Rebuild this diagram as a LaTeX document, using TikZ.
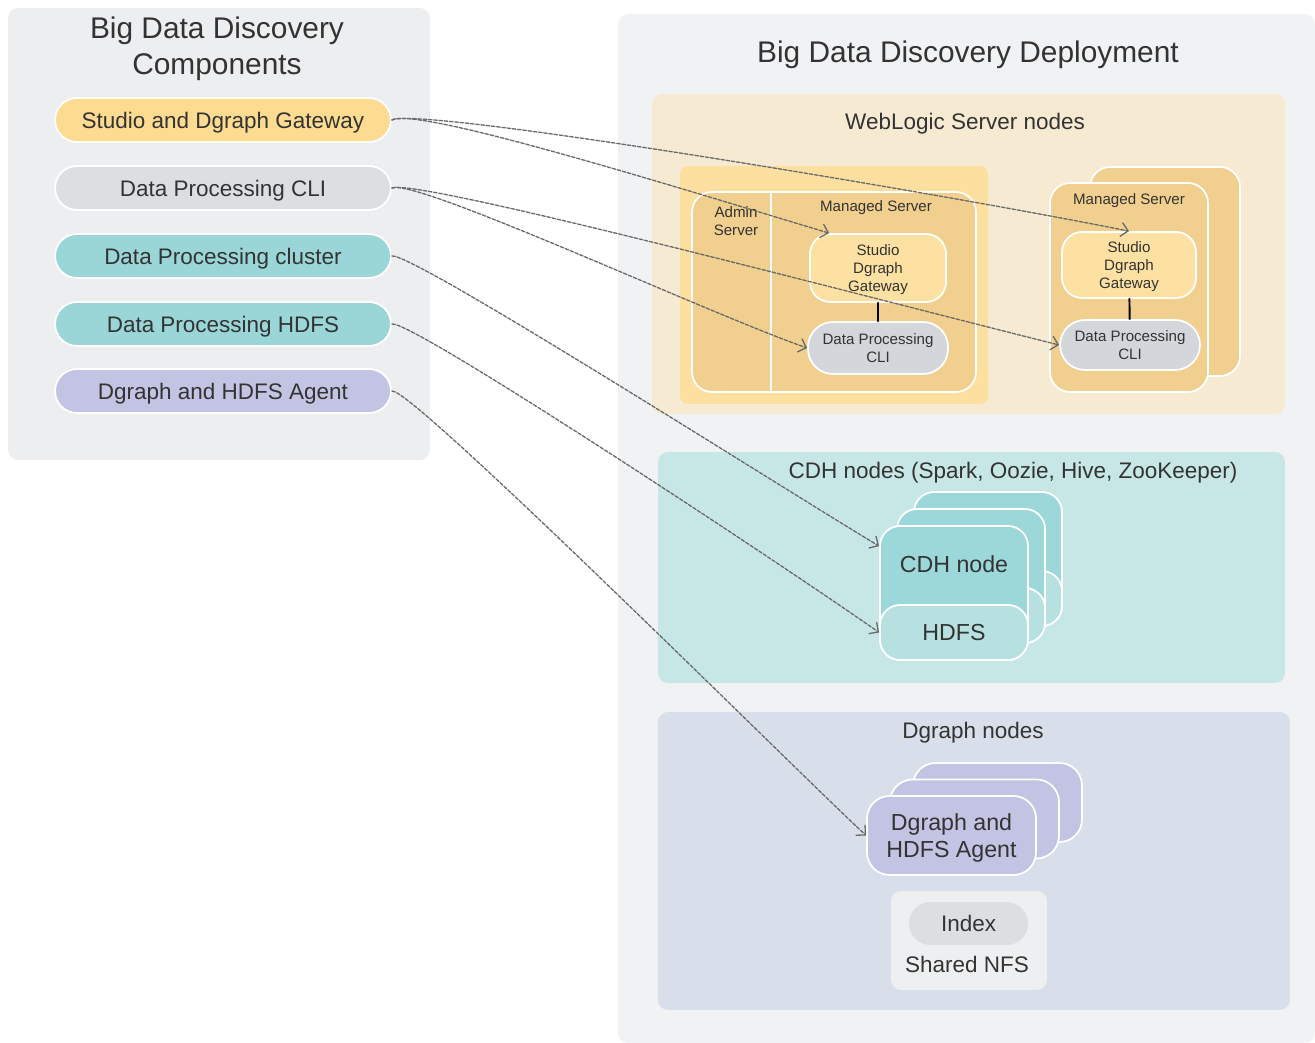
\documentclass[tikz,border=0pt]{standalone}
\usepackage{fontspec}
\setmainfont{Liberation Sans}
\usetikzlibrary{arrows.meta}
\definecolor{panelgray}{HTML}{EDEEF0}
\definecolor{deploygray}{HTML}{F1F2F4}
\definecolor{wlsbg}{HTML}{F6EAD2}
\definecolor{wlsyel}{HTML}{FDE0A0}
\definecolor{servtan}{HTML}{F1CF8E}
\definecolor{sdgyel}{HTML}{FDE1A2}
\definecolor{cligray}{HTML}{DCDFE2}
\definecolor{cligray2}{HTML}{D3D6DA}
\definecolor{studioyel}{HTML}{FDDC92}
\definecolor{dpteal}{HTML}{9AD6D8}
\definecolor{agentlav}{HTML}{C3C4E4}
\definecolor{cdhbg}{HTML}{C7E7E6}
\definecolor{cdhteal}{HTML}{9CD7DA}
\definecolor{cdhlight}{HTML}{B7E1E1}
\definecolor{dgbg}{HTML}{D8DEEA}
\definecolor{nfsgray}{HTML}{EEEFF0}
\definecolor{txtgray}{HTML}{333333}
\definecolor{linkgray}{HTML}{6A6A6A}
\begin{document}
\begin{tikzpicture}[x=0.02cm,y=-0.02cm,line join=round,line cap=round,
	txt/.style={text=txtgray,font=\fontsize{12.8}{15.4}\selectfont,align=center,inner sep=0pt,text depth=0pt},
	ttl/.style={txt,font=\fontsize{17}{20.4}\selectfont},
	tiny/.style={txt,font=\fontsize{8.6}{10.2}\selectfont},
	big/.style={txt,font=\fontsize{13.2}{15.4}\selectfont},
	panel/.style={rounded corners=0.2cm,inner sep=0pt},
	box/.style={draw=white,line width=1pt,inner sep=0pt},
	pill/.style={box,txt,rounded corners=0.44cm,minimum width=6.72cm,minimum height=0.88cm},
	link/.style={->,>={Straight Barb[length=4pt,width=8pt]},draw=linkgray,line width=0.75pt,dash pattern=on 2pt off 1pt}]
	\useasboundingbox (0,0) rectangle (1315,1043);
	% components
	\node[panel,fill=panelgray,minimum width=8.44cm,minimum height=9.04cm] (comp) at (219,234) {};
	\node[ttl] (comptitle) at (217,46) {Big Data Discovery\\Components};
	\node[pill,fill=studioyel] (pstudio) at (223,120) {Studio and Dgraph Gateway};
	\node[pill,fill=cligray] (pcli) at (223,188) {Data Processing CLI};
	\node[pill,fill=dpteal] (pcluster) at (223,256) {Data Processing cluster};
	\node[pill,fill=dpteal] (phdfs) at (223,324) {Data Processing HDFS};
	\node[pill,fill=agentlav] (pagent) at (223,391) {Dgraph and HDFS Agent};
	% deployment
	\node[panel,fill=deploygray,minimum width=13.94cm,minimum height=20.58cm] (deploy) at (966.5,528.5) {};
	\node[ttl] (deploytitle) at (968,52) {Big Data Discovery Deployment};
	% weblogic
	\node[panel,fill=wlsbg,minimum width=12.66cm,minimum height=6.4cm] (wls) at (968.5,254) {};
	\node[txt] (wlstitle) at (965,121) {WebLogic Server nodes};
	\node[panel,fill=wlsyel,rounded corners=0.16cm,minimum width=6.16cm,minimum height=4.76cm] (adminhost) at (834,285) {};
	\node[box,fill=servtan,rounded corners=0.4cm,minimum width=5.68cm,minimum height=4cm] (servers) at (834,292) {};
	\draw[white,line width=1pt] (771,192) -- (771,392);
	\node[tiny] (adminlbl) at (736,221) {Admin\\Server};
	\node[tiny] (ms1lbl) at (876,206) {Managed Server};
	\node[box,tiny,fill=sdgyel,rounded corners=0.4cm,minimum width=2.72cm,minimum height=1.36cm] (sdg1) at (878,268) {Studio\\Dgraph\\Gateway};
	\node[box,tiny,fill=cligray2,rounded corners=0.5cm,minimum width=2.8cm,minimum height=1.04cm] (cli1) at (878,348) {Data Processing\\CLI};
	\draw[line width=1.1pt] (sdg1) -- (cli1);
	\node[box,fill=servtan,rounded corners=0.4cm,minimum width=3cm,minimum height=4.18cm] (ms2back) at (1165,271.5) {};
	\node[box,fill=servtan,rounded corners=0.4cm,minimum width=3.16cm,minimum height=4.18cm] (ms2) at (1129,287.5) {};
	\node[tiny] (ms2lbl) at (1129,199) {Managed Server};
	\node[box,tiny,fill=sdgyel,rounded corners=0.4cm,minimum width=2.68cm,minimum height=1.32cm] (sdg2) at (1129,265) {Studio\\Dgraph\\Gateway};
	\node[box,tiny,fill=cligray2,rounded corners=0.5cm,minimum width=2.8cm,minimum height=1cm] (cli2) at (1130,345) {Data Processing\\CLI};
	\draw[line width=1.1pt] (sdg2) -- (cli2);
	% cdh
	\node[panel,fill=cdhbg,minimum width=12.54cm,minimum height=4.62cm] (cdhzone) at (971.5,567.5) {};
	\node[txt] (cdhtitle) at (1013,470) {CDH nodes (Spark, Oozie, Hive, ZooKeeper)};
	\foreach \d in {34,17}{
		\node[box,fill=cdhteal,rounded corners=0.4cm,minimum width=2.96cm,minimum height=2.68cm] (cdhb\d) at (954+\d,593-\d) {};
		\node[box,fill=cdhlight,rounded corners=0.4cm,minimum width=2.96cm,minimum height=1.1cm] (hdfsb\d) at (954+\d,632.5-\d) {};
	}
	\node[box,fill=cdhteal,rounded corners=0.4cm,minimum width=2.96cm,minimum height=2.68cm] (cdh) at (954,593) {};
	\node[box,big,fill=cdhlight,rounded corners=0.4cm,minimum width=2.96cm,minimum height=1.1cm] (hdfs) at (954,632.5) {HDFS};
	\node[big] (cdhlbl) at (954,564) {CDH node};
	% dgraph
	\node[panel,fill=dgbg,minimum width=12.64cm,minimum height=5.96cm] (dgzone) at (974,861) {};
	\node[txt] (dgtitle) at (973,730) {Dgraph nodes};
	\foreach \dx/\dy in {46/33,23/16.5}
		\node[box,fill=agentlav,rounded corners=0.45cm,minimum width=3.38cm,minimum height=1.58cm] (agentb\dx) at (951.5+\dx,835.5-\dy) {};
	\node[box,big,fill=agentlav,rounded corners=0.45cm,minimum width=3.38cm,minimum height=1.58cm] (agent) at (951.5,835.5) {Dgraph and\\HDFS Agent};
	\node[panel,fill=nfsgray,minimum width=3.12cm,minimum height=1.98cm] (nfs) at (969,940.5) {};
	\node[txt,fill=cligray,rounded corners=0.43cm,minimum width=2.38cm,minimum height=0.86cm] (index) at (968.5,923.5) {Index};
	\node[txt] (nfslbl) at (967,964) {Shared NFS};
	% links
	\draw[link] (pstudio.east) .. controls +(25,-14) and +(-150,-45) .. ([xshift=0.4cm]sdg1.north west);
	\draw[link] (pstudio.east) .. controls +(25,-14) and +(-200,-40) .. (sdg2.north);
	\draw[link] (pcli.east) .. controls +(25,-10) and +(-100,-35) .. (cli1.west);
	\draw[link] (pcli.east) .. controls +(25,-10) and +(-200,-50) .. (cli2.west);
	\draw[link] (pcluster.east) .. controls +(20,-4) and +(-100,-60) .. ([yshift=-0.42cm]cdh.north west);
	\draw[link] (phdfs.east) .. controls +(20,-4) and +(-100,-70) .. (hdfs.west);
	\draw[link] (pagent.east) .. controls +(20,-4) and +(-60,-55) .. (agent.west);
\end{tikzpicture}
\end{document}
